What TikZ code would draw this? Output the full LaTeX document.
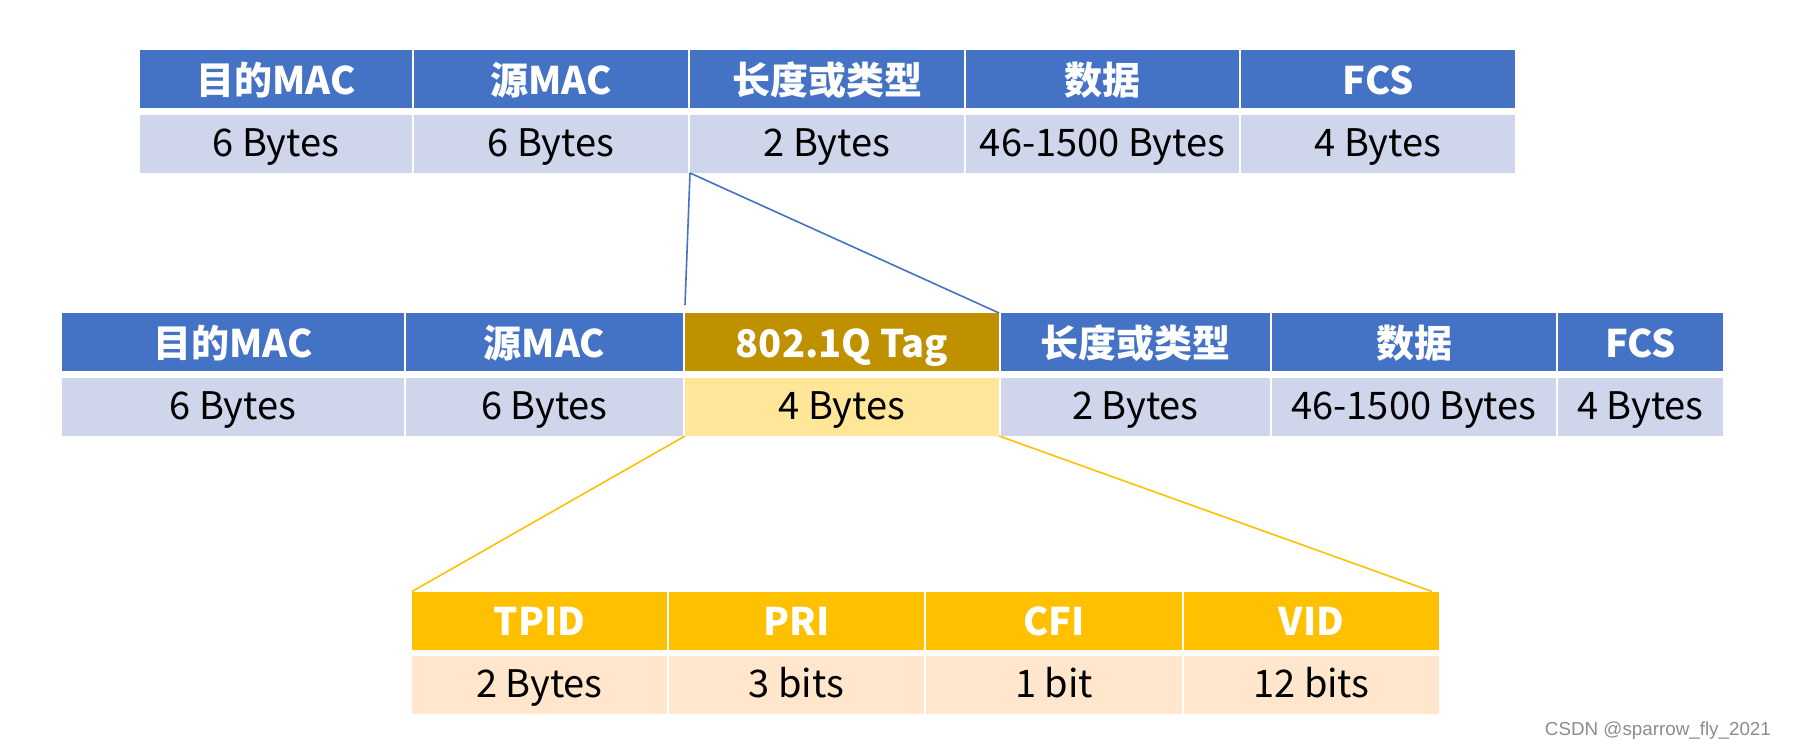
\documentclass[tikz,border=0pt]{standalone}
\usepackage{fontspec}
\setmainfont{Noto Sans CJK SC}
\newfontfamily\markfont{Liberation Sans}
\usetikzlibrary{positioning}
\definecolor{headblue}{HTML}{4472C4}
\definecolor{rowblue}{HTML}{CFD5EA}
\definecolor{headgold}{HTML}{BF9000}
\definecolor{rowgold}{HTML}{FFE699}
\definecolor{headyellow}{HTML}{FFC000}
\definecolor{rowpeach}{HTML}{FFE6CC}

\begin{document}
\begin{tikzpicture}[
      x=0.5pt,
      y=-0.5pt,
      cell/.style = {
        inner sep=0pt,
        outer sep=0pt,
        minimum height=29pt,
        text height=12.5pt,
        text depth=0pt,
        font=\fontsize{19}{22}\selectfont
      },
      head/.style = {
        cell,
        text=white,
        text height=15pt,
        font=\fontsize{19}{22}\selectfont\bfseries
      },
      bluelink/.style = {
        draw=headblue,
        line width=0.8pt
      },
      goldlink/.style = {
        draw=headyellow,
        line width=0.8pt
      }
    ]
    \useasboundingbox (0,0) rectangle (1794,755);

    \foreach \n/\xa/\xb/\hd/\bd in {
        1/139/413/目的MAC/6 Bytes,
        2/413/689/源MAC/6 Bytes,
        3/689/965/长度或类型/2 Bytes,
        4/965/1240/数据/46-1500 Bytes,
        5/1240/1516/FCS/4 Bytes} {
      \node[head, fill=headblue, minimum width={(\xb-\xa-2)*0.5pt}] (ah\n) at ({(\xa+\xb)/2},79) {\hd};
      \node[cell, fill=rowblue, minimum width={(\xb-\xa-2)*0.5pt}] (ar\n) at ({(\xa+\xb)/2},144) {\bd};
    }

    \foreach \n/\xa/\xb/\hc/\rc/\hd/\bd in {
        1/61/405/headblue/rowblue/目的MAC/6 Bytes,
        2/405/684/headblue/rowblue/源MAC/6 Bytes,
        3/684/1000/headgold/rowgold/802.1Q Tag/4 Bytes,
        4/1000/1271/headblue/rowblue/长度或类型/2 Bytes,
        5/1271/1557/headblue/rowblue/数据/46-1500 Bytes,
        6/1557/1724/headblue/rowblue/FCS/4 Bytes} {
      \node[head, fill=\hc, minimum width={(\xb-\xa-2)*0.5pt}] (bh\n) at ({(\xa+\xb)/2},342) {\hd};
      \node[cell, fill=\rc, minimum width={(\xb-\xa-2)*0.5pt}] (br\n) at ({(\xa+\xb)/2},407) {\bd};
    }

    \foreach \n/\xa/\xb/\hd/\bd in {
        1/411/668/TPID/2 Bytes,
        2/668/925/PRI/3 bits,
        3/925/1183/CFI/1 bit,
        4/1183/1440/VID/12 bits} {
      \node[head, fill=headyellow, minimum width={(\xb-\xa-2)*0.5pt}] (ch\n) at ({(\xa+\xb)/2},620.5) {\hd};
      \node[cell, fill=rowpeach, minimum width={(\xb-\xa-2)*0.5pt}] (cr\n) at ({(\xa+\xb)/2},684.5) {\bd};
    }

    \draw[bluelink] (ar3.south west) -- ([yshift=4pt]bh3.north west);
    \draw[bluelink] (ar3.south west) -- (bh3.north east);

    \draw[goldlink] (br3.south west) -- (ch1.north west);
    \draw[goldlink] (br3.south east) -- ([xshift=-3.5pt]ch4.north east);

    \node[anchor=east, text=black!45, font=\markfont\fontsize{9.4}{10}\selectfont] (mark) at (1778,731) {CSDN @sparrow\_fly\_2021};
  \end{tikzpicture}
\end{document}
